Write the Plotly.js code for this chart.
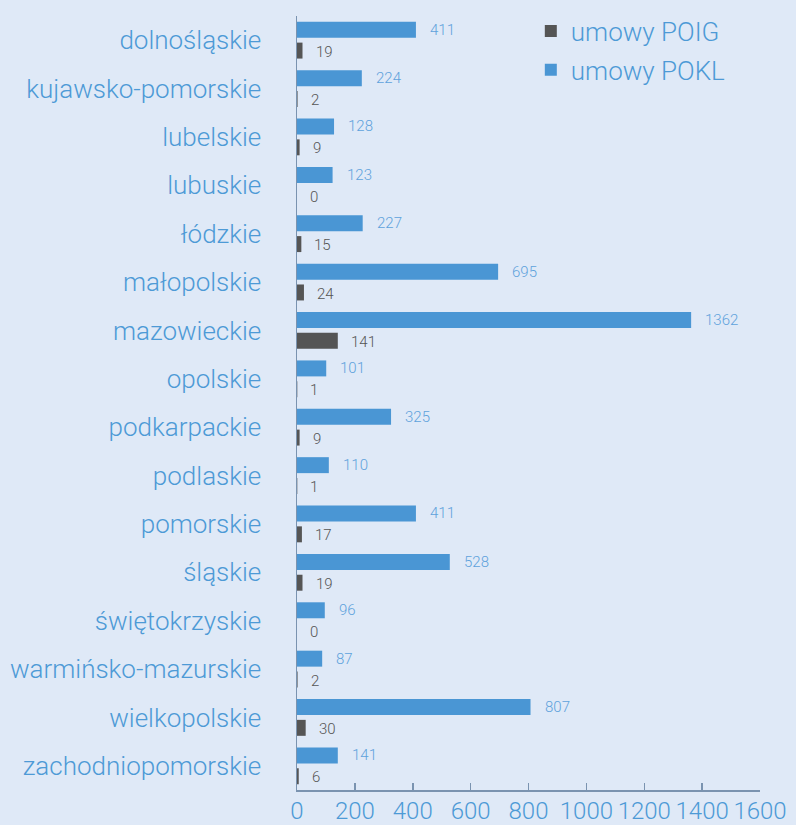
<!DOCTYPE html>
<html>
<head>
<meta charset="utf-8">
<script src="https://cdn.plot.ly/plotly-3.0.1.min.js"></script>
<style>html,body{margin:0;padding:0;background:#dfe9f7;}#chart{width:796px;height:825px;}</style>
</head>
<body>
<div id="chart"></div>
<script>
const categories = ["dolnośląskie","kujawsko-pomorskie","lubelskie","lubuskie","łódzkie","małopolskie","mazowieckie","opolskie","podkarpackie","podlaskie","pomorskie","śląskie","świętokrzyskie","warmińsko-mazurskie","wielkopolskie","zachodniopomorskie"];
const pokl = [411,224,128,123,227,695,1362,101,325,110,411,528,96,87,807,141];
const poig = [19,2,9,0,15,24,141,1,9,1,17,19,0,2,30,6];
const xTicks = [0,200,400,600,800,1000,1200,1400,1600];

const FONT = "Roboto, 'Helvetica Neue', Arial, sans-serif";
const BG = "#dfe9f7";
const BLUE = "#4a96d4";
const DARK = "#555555";

const traces = [
  {type:"bar", orientation:"h", name:"umowy POIG", y:categories, x:poig,
   marker:{color:DARK}, offset:0.05, width:0.33, legendgroup:"a", hoverinfo:"x"},
  {type:"bar", orientation:"h", name:"umowy POKL", y:categories, x:pokl,
   marker:{color:BLUE}, offset:-0.38, width:0.33, legendgroup:"b", hoverinfo:"x"}
];

const annotations = [];
categories.forEach((c,i)=>{
  annotations.push({x:pokl[i], y:c, xref:"x", yref:"y", text:String(pokl[i]), showarrow:false,
    xanchor:"left", yanchor:"middle", xshift:12, yshift:10.5,
    font:{family:FONT, size:15, color:"#5ea2dc", weight:300}});
  annotations.push({x:poig[i], y:c, xref:"x", yref:"y", text:String(poig[i]), showarrow:false,
    xanchor:"left", yanchor:"middle", xshift:11, yshift:-11.5,
    font:{family:FONT, size:15, color:"#555555", weight:300}});
});

const layout = {
  width:796, height:825,
  paper_bgcolor:BG, plot_bgcolor:BG,
  margin:{l:297, r:36, t:16, b:35, pad:0, autoexpand:false},
  barmode:"overlay",
  showlegend:true,
  legend:{x:0.505, xanchor:"left", y:1.011, yanchor:"top", traceorder:"grouped", tracegroupgap:2,
    font:{family:FONT, size:26, color:"#4d9ad6", weight:300}, bgcolor:"rgba(0,0,0,0)"},
  xaxis:{range:[0,1600], tickvals:xTicks, ticktext:xTicks.map(String), ticks:"inside", ticklen:7,
    tickcolor:"#7a93b0", tickwidth:1.5, showline:true, linecolor:"#7a93b0", linewidth:1.5,
    showgrid:false, zeroline:false, automargin:false, ticklabelstandoff:-1,
    tickfont:{family:FONT, size:24, color:"#4d9ad6", weight:300}, fixedrange:true},
  yaxis:{type:"category", categoryorder:"array", categoryarray:categories, autorange:"reversed",
    range:[15.5,-0.5], showline:true, linecolor:"#7a93b0", linewidth:1.5, ticks:"", showgrid:false,
    zeroline:false, automargin:false, ticklabelstandoff:29,
    tickfont:{family:FONT, size:26, color:"#4d9ad6", weight:300}, fixedrange:true},
  annotations:annotations
};

Plotly.newPlot("chart", traces, layout, {displayModeBar:false, staticPlot:true});
</script>
</body>
</html>
